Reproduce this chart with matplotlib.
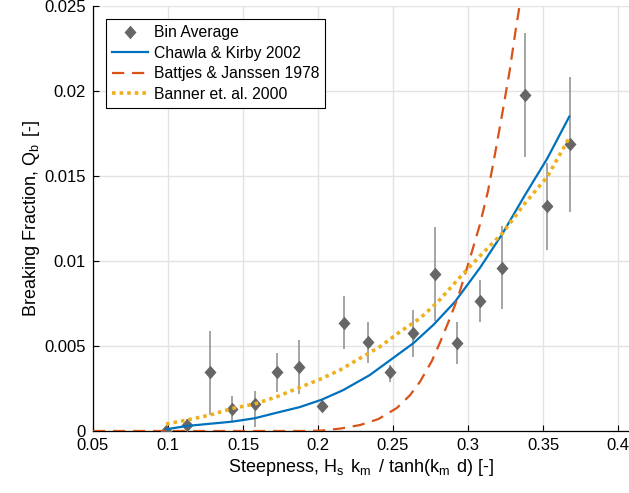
import numpy as np
import matplotlib
matplotlib.use("Agg")
import matplotlib.pyplot as plt

plt.rcParams['font.family'] = ['Liberation Sans', 'DejaVu Sans']
plt.rcParams['mathtext.fontset'] = 'custom'
plt.rcParams['mathtext.rm'] = 'Liberation Sans'
plt.rcParams['mathtext.it'] = 'Liberation Sans'

# bin averaged breaking fraction with spread
bin_x = [0.0987, 0.1129, 0.128, 0.1429, 0.1578, 0.1727, 0.1876, 0.2024, 0.2173, 0.2331,
         0.248, 0.2631, 0.278, 0.2929, 0.308, 0.3229, 0.338, 0.3529, 0.368]
bin_q = [0.0, 0.00035, 0.00345, 0.00128, 0.00159, 0.00345, 0.00375, 0.00149, 0.00637, 0.00522,
         0.00345, 0.00575, 0.00924, 0.00516, 0.00765, 0.0096, 0.01976, 0.01325, 0.01686]
bin_lo = [0.0, 0.00006, 0.00094, 0.00055, 0.00025, 0.0023, 0.00216, 0.0012, 0.00482, 0.00398,
          0.0029, 0.00437, 0.00649, 0.00392, 0.00639, 0.00716, 0.0161, 0.01065, 0.01286]
bin_hi = [0.0, 0.00069, 0.0059, 0.00208, 0.00235, 0.0046, 0.00535, 0.0018, 0.00794, 0.00643,
          0.0039, 0.00712, 0.0120, 0.00639, 0.00888, 0.01208, 0.02343, 0.01575, 0.02084]

# Chawla & Kirby 2002
ck_x = [0.0987, 0.1129, 0.1429, 0.1578, 0.1727, 0.1876, 0.2024, 0.2169, 0.2345, 0.248,
        0.2635, 0.2769, 0.2913, 0.308, 0.3229, 0.338, 0.3529, 0.3675]
ck_q = [0.0001, 0.0003, 0.00055, 0.00075, 0.00108, 0.0014, 0.00184, 0.00241, 0.00329, 0.00416,
        0.00516, 0.00624, 0.0076, 0.0096, 0.0116, 0.01388, 0.01604, 0.01849]

# Battjes & Janssen 1978 (runs off the top of the axes)
bj_x = [0.05, 0.19, 0.2013, 0.2147, 0.228, 0.2402, 0.2525, 0.2613, 0.268, 0.2758, 0.2813,
        0.2869, 0.2913, 0.2945, 0.3011, 0.3078, 0.3133, 0.3178, 0.3233, 0.3278, 0.3318,
        0.3338, 0.3355]
bj_q = [0.0, 0.0, 0.00002, 0.00014, 0.00035, 0.0007, 0.00135, 0.0021, 0.0029, 0.0041, 0.0052,
        0.0064, 0.0074, 0.0082, 0.0101, 0.0121, 0.0141, 0.0162, 0.0189, 0.0212, 0.0236,
        0.0247, 0.0258]

# Banner et. al. 2000
bn_x = [0.0987, 0.1129, 0.128, 0.1429, 0.1578, 0.1727, 0.188, 0.2013, 0.2147, 0.228,
        0.2413, 0.2547, 0.268, 0.28, 0.2931, 0.308, 0.3229, 0.338, 0.3529, 0.3675]
bn_q = [0.00041, 0.00065, 0.00094, 0.00133, 0.00159, 0.00202, 0.00257, 0.00304, 0.00359, 0.00428,
        0.00496, 0.00584, 0.00663, 0.0076, 0.0089, 0.0103, 0.01163, 0.0134, 0.01496, 0.01725]

fig = plt.figure(figsize=(6.29, 4.93), dpi=100)
ax = fig.add_axes([93 / 629, 1 - 431 / 493, 1 - 93 / 629, (431 - 6) / 493])

q = np.array(bin_q)
yerr = [q - np.array(bin_lo), np.array(bin_hi) - q]
ax.errorbar(bin_x, bin_q, yerr=yerr, fmt='none', ecolor='#8c8c8c', elinewidth=1.1, capsize=0, zorder=3)
diamond = [(0, 1), (0.88, 0), (0, -1), (-0.88, 0), (0, 1)]
ax.plot(bin_x, bin_q, linestyle='none', marker=diamond, markersize=9.8, color='#666666',
        markeredgewidth=0, label='Bin Average', zorder=4)

ax.plot(ck_x, ck_q, color='#0072BD', lw=1.6, label='Chawla & Kirby 2002', zorder=5)
ax.plot(bj_x, bj_q, color='#D95319', lw=1.6, dashes=(5.5, 3.5), label='Battjes & Janssen 1978', zorder=5)
ax.plot(bn_x, bn_q, color='#EDB120', lw=2.6, dashes=(1, 1.1), dash_capstyle='butt',
        label='Banner et. al. 2000', zorder=5)

ax.set_xlim(0.05, 0.05 + (629 - 93) / 1500)
ax.set_ylim(0, 0.025)
ax.set_xticks([0.05, 0.1, 0.15, 0.2, 0.25, 0.3, 0.35, 0.4])
ax.set_xticklabels(['0.05', '0.1', '0.15', '0.2', '0.25', '0.3', '0.35', '0.4'])
ax.set_yticks([0, 0.005, 0.01, 0.015, 0.02, 0.025])
ax.set_yticklabels(['0', '0.005', '0.01', '0.015', '0.02', '0.025'])
ax.tick_params(direction='in', length=4, width=0.8, labelsize=12, pad=5)
ax.grid(True, color='#e3e3e3', lw=1)
ax.set_axisbelow(True)
for s in ['top', 'right']:
    ax.spines[s].set_visible(False)
for s in ['left', 'bottom']:
    ax.spines[s].set_linewidth(0.9)

ax.set_xlabel('Steepness, H$_\\mathregular{s}\\,$ k$_\\mathregular{m}\\,$ / tanh(k$_\\mathregular{m}\\,$ d) [-]',
              fontsize=13, labelpad=3)
ax.set_ylabel('Breaking Fraction, Q$_\\mathregular{b}\\,$ [-]', fontsize=13, labelpad=2)

leg = ax.legend(loc='upper left', bbox_to_anchor=(0.024, 0.969), borderaxespad=0,
                fontsize=11.3, fancybox=False, framealpha=1, edgecolor='black',
                handlelength=2.3, handletextpad=0.35, labelspacing=0.35, borderpad=0.4)
leg.get_frame().set_linewidth(0.8)

fig.savefig('out.png', dpi=100)
